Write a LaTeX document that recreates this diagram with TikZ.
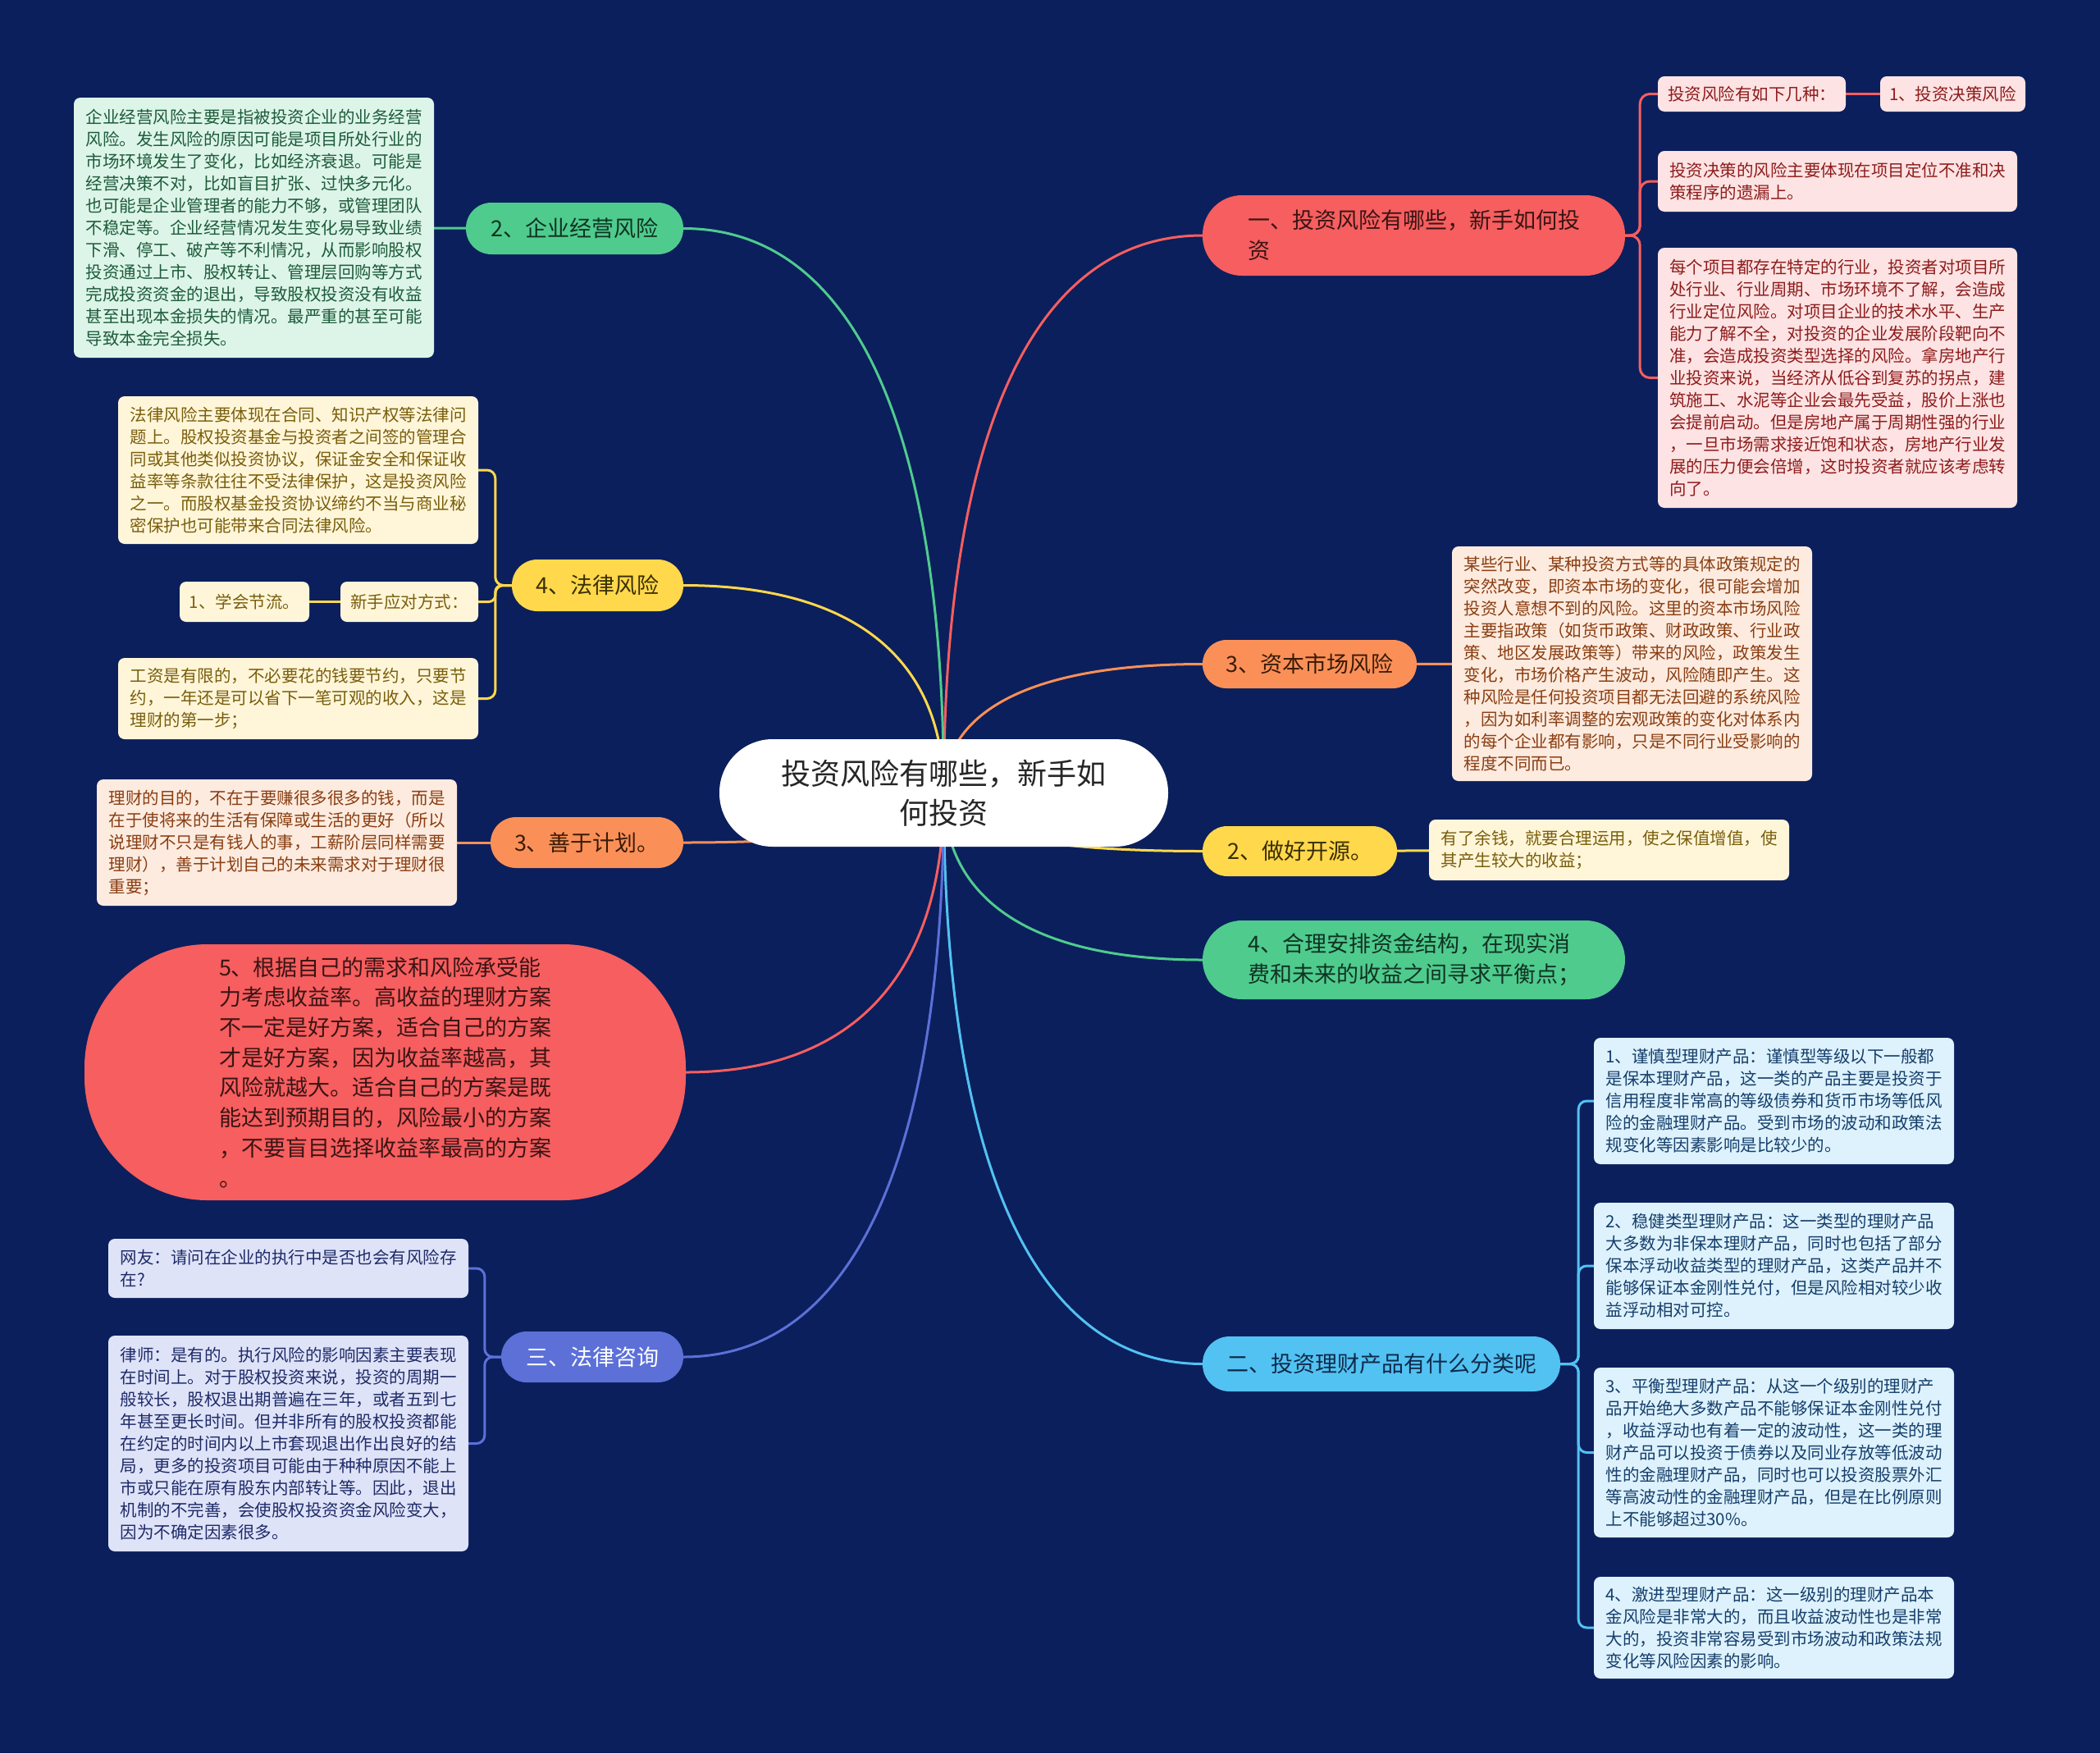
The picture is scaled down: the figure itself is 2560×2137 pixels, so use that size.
\documentclass[tikz,border=0pt]{standalone}
\usepackage{fontspec}
\setmainfont{Noto Sans CJK SC}
\usetikzlibrary{calc}
\definecolor{bg}{HTML}{0B1F5C}
\definecolor{redc}{HTML}{F65E5F}
\definecolor{redlt}{HTML}{FDE3E3}
\definecolor{reddk}{HTML}{8E1C1C}
\definecolor{redtx}{HTML}{3A1414}
\definecolor{orgc}{HTML}{FA9057}
\definecolor{orglt}{HTML}{FDEBDF}
\definecolor{orgdk}{HTML}{8A3E12}
\definecolor{orgtx}{HTML}{3A1B08}
\definecolor{ylwc}{HTML}{FFD84B}
\definecolor{ylwlt}{HTML}{FFF6D9}
\definecolor{ylwdk}{HTML}{7A5E0C}
\definecolor{ylwtx}{HTML}{3A2E05}
\definecolor{grnc}{HTML}{4FCB8E}
\definecolor{grnlt}{HTML}{DDF5E9}
\definecolor{grndk}{HTML}{1D5B3A}
\definecolor{grntx}{HTML}{0F3322}
\definecolor{bluc}{HTML}{52C2F2}
\definecolor{blult}{HTML}{DDF2FC}
\definecolor{bludk}{HTML}{163E6C}
\definecolor{blutx}{HTML}{0E2A4A}
\definecolor{purc}{HTML}{5C70D8}
\definecolor{purlt}{HTML}{DFE3F8}
\definecolor{purdk}{HTML}{1E2B68}
\pgfdeclarelayer{back}
\pgfdeclarelayer{links}
\pgfsetlayers{back,links,main}
\begin{document}
\begin{tikzpicture}[x=1pt, y=-1pt,
    box/.style={rounded corners=8pt, inner sep=0pt, align=left, minimum width=439pt, font=\fontsize{20.5}{27}\selectfont},
    pill/.style={rounded corners=#1, inner sep=0pt, align=left, font=\fontsize{27}{36.7}\selectfont},
    link/.style={line width=3pt},
    fork/.style={line width=3pt, rounded corners=#1},
    branch/.style={line width=3pt, to path={.. controls ($(\tikztostart)!0.65!(\tikztostart |- \tikztotarget)$) and ($(\tikztotarget)!0.65!(\tikztostart |- \tikztotarget)$) .. (\tikztotarget)}}]
    \useasboundingbox (0,0) rectangle (2560,2137);
    \begin{pgfonlayer}{back}
        \fill[bg] (0,0) rectangle (2560,2137);
    \end{pgfonlayer}

    \node (root) at (1150.5,966.5) [fill=white, rounded corners=65pt, minimum width=547pt, minimum height=131pt, inner sep=0pt, align=center, text=black!85, font=\fontsize{36}{48}\selectfont] {投资风险有哪些，新手如\\何投资};

    \node (b1) at (1723.5,287) [pill=48pt, fill=redc, text=redtx, minimum width=515pt, minimum height=98pt] {一、投资风险有哪些，新手如何投\\资};
    \node (r1a) at (2135.5,114.5) [box, fill=redlt, text=reddk, minimum width=229pt, minimum height=43pt] {投资风险有如下几种：};
    \node (r1b) at (2380.5,114.5) [box, fill=redlt, text=reddk, minimum width=177pt, minimum height=43pt] {1、投资决策风险};
    \node (r1c) at (2240,221) [box, fill=redlt, text=reddk, minimum width=438pt, minimum height=74pt] {投资决策的风险主要体现在项目定位不准和决\\策程序的遗漏上。};
    \node (r1d) at (2240,460.5) [box, fill=redlt, text=reddk, minimum width=438pt, minimum height=317pt] {每个项目都存在特定的行业，投资者对项目所\\处行业、行业周期、市场环境不了解，会造成\\行业定位风险。对项目企业的技术水平、生产\\能力了解不全，对投资的企业发展阶段靶向不\\准，会造成投资类型选择的风险。拿房地产行\\业投资来说，当经济从低谷到复苏的拐点，建\\筑施工、水泥等企业会最先受益，股价上涨也\\会提前启动。但是房地产属于周期性强的行业\\，一旦市场需求接近饱和状态，房地产行业发\\展的压力便会倍增，这时投资者就应该考虑转\\向了。};

    \node (b2) at (1596.5,809.5) [pill=29pt, fill=orgc, text=orgtx, minimum width=261pt, minimum height=59pt] {3、资本市场风险};
    \node (cap) at (1989.5,809) [box, fill=orglt, text=orgdk, minimum height=286pt] {某些行业、某种投资方式等的具体政策规定的\\突然改变，即资本市场的变化，很可能会增加\\投资人意想不到的风险。这里的资本市场风险\\主要指政策（如货币政策、财政政策、行业政\\策、地区发展政策等）带来的风险，政策发生\\变化，市场价格产生波动，风险随即产生。这\\种风险是任何投资项目都无法回避的系统风险\\，因为如利率调整的宏观政策的变化对体系内\\的每个企业都有影响，只是不同行业受影响的\\程度不同而已。};

    \node (b3) at (1584.5,1037.5) [pill=30pt, fill=ylwc, text=ylwtx, minimum width=237pt, minimum height=61pt] {2、做好开源。};
    \node (src) at (1961.5,1036) [box, fill=ylwlt, text=ylwdk, minimum height=74pt] {有了余钱，就要合理运用，使之保值增值，使\\其产生较大的收益；};

    \node (b4) at (1723.5,1170) [pill=48pt, fill=grnc, text=grntx, minimum width=515pt, minimum height=96pt] {4、合理安排资金结构，在现实消\\费和未来的收益之间寻求平衡点；};

    \node (b5) at (1684,1662.5) [pill=33pt, fill=bluc, text=blutx, minimum width=436pt, minimum height=67pt] {二、投资理财产品有什么分类呢};
    \node (p1) at (2162.5,1342) [box, fill=blult, text=bludk, minimum height=154pt] {1、谨慎型理财产品：谨慎型等级以下一般都\\是保本理财产品，这一类的产品主要是投资于\\信用程度非常高的等级债券和货币市场等低风\\险的金融理财产品。受到市场的波动和政策法\\规变化等因素影响是比较少的。};
    \node (p2) at (2162.5,1543) [box, fill=blult, text=bludk, minimum height=154pt] {2、稳健类型理财产品：这一类型的理财产品\\大多数为非保本理财产品，同时也包括了部分\\保本浮动收益类型的理财产品，这类产品并不\\能够保证本金刚性兑付，但是风险相对较少收\\益浮动相对可控。};
    \node (p3) at (2162.5,1770.5) [box, fill=blult, text=bludk, minimum height=207pt] {3、平衡型理财产品：从这一个级别的理财产\\品开始绝大多数产品不能够保证本金刚性兑付\\，收益浮动也有着一定的波动性，这一类的理\\财产品可以投资于债券以及同业存放等低波动\\性的金融理财产品，同时也可以投资股票外汇\\等高波动性的金融理财产品，但是在比例原则\\上不能够超过30\%。};
    \node (p4) at (2162.5,1984) [box, fill=blult, text=bludk, minimum height=124pt] {4、激进型理财产品：这一级别的理财产品本\\金风险是非常大的，而且收益波动性也是非常\\大的，投资非常容易受到市场波动和政策法规\\变化等风险因素的影响。};

    \node (l1) at (700.5,278.5) [pill=31pt, fill=grnc, text=grntx, minimum width=265pt, minimum height=63pt] {2、企业经营风险};
    \node (ent) at (309.5,277.5) [box, fill=grnlt, text=grndk, minimum height=317pt] {企业经营风险主要是指被投资企业的业务经营\\风险。发生风险的原因可能是项目所处行业的\\市场环境发生了变化，比如经济衰退。可能是\\经营决策不对，比如盲目扩张、过快多元化。\\也可能是企业管理者的能力不够，或管理团队\\不稳定等。企业经营情况发生变化易导致业绩\\下滑、停工、破产等不利情况，从而影响股权\\投资通过上市、股权转让、管理层回购等方式\\完成投资资金的退出，导致股权投资没有收益\\甚至出现本金损失的情况。最严重的甚至可能\\导致本金完全损失。};

    \node (l2) at (728.5,713.5) [pill=31pt, fill=ylwc, text=ylwtx, minimum width=209pt, minimum height=63pt] {4、法律风险};
    \node (law1) at (363.5,573) [box, fill=ylwlt, text=ylwdk, minimum height=180pt] {法律风险主要体现在合同、知识产权等法律问\\题上。股权投资基金与投资者之间签的管理合\\同或其他类似投资协议，保证金安全和保证收\\益率等条款往往不受法律保护，这是投资风险\\之一。而股权基金投资协议缔约不当与商业秘\\密保护也可能带来合同法律风险。};
    \node (way) at (499,733.5) [box, fill=ylwlt, text=ylwdk, minimum width=168pt, minimum height=49pt] {新手应对方式：};
    \node (save) at (298,733.5) [box, fill=ylwlt, text=ylwdk, minimum width=158pt, minimum height=49pt] {1、学会节流。};
    \node (law3) at (363.5,851.5) [box, fill=ylwlt, text=ylwdk, minimum height=99pt] {工资是有限的，不必要花的钱要节约，只要节\\约，一年还是可以省下一笔可观的收入，这是\\理财的第一步；};

    \node (l3) at (715.5,1027) [pill=31pt, fill=orgc, text=orgtx, minimum width=235pt, minimum height=62pt] {3、善于计划。};
    \node (plan) at (337.5,1027) [box, fill=orglt, text=orgdk, minimum height=154pt] {理财的目的，不在于要赚很多很多的钱，而是\\在于使将来的生活有保障或生活的更好（所以\\说理财不只是有钱人的事，工薪阶层同样需要\\理财），善于计划自己的未来需求对于理财很\\重要；};

    \node (l4) at (469.5,1307) [pill=150pt, fill=redc, text=redtx, minimum width=733pt, minimum height=312pt] {5、根据自己的需求和风险承受能\\力考虑收益率。高收益的理财方案\\不一定是好方案，适合自己的方案\\才是好方案，因为收益率越高，其\\风险就越大。适合自己的方案是既\\能达到预期目的，风险最小的方案\\，不要盲目选择收益率最高的方案\\。};

    \node (l5) at (722,1654) [pill=31pt, fill=purc, text=white, minimum width=222pt, minimum height=62pt] {三、法律咨询};
    \node (cq1) at (351.5,1546) [box, fill=purlt, text=purdk, minimum height=72pt] {网友：请问在企业的执行中是否也会有风险存\\在?};
    \node (cq2) at (351.5,1759.5) [box, fill=purlt, text=purdk, minimum height=263pt] {律师：是有的。执行风险的影响因素主要表现\\在时间上。对于股权投资来说，投资的周期一\\般较长，股权退出期普遍在三年，或者五到七\\年甚至更长时间。但并非所有的股权投资都能\\在约定的时间内以上市套现退出作出良好的结\\局，更多的投资项目可能由于种种原因不能上\\市或只能在原有股东内部转让等。因此，退出\\机制的不完善，会使股权投资资金风险变大，\\因为不确定因素很多。};

    \begin{pgfonlayer}{links}
        \draw[branch, redc] (root.center) to (b1.west);
        \draw[branch, orgc] (root.center) to (b2.west);
        \draw[branch, ylwc] (root.center) to (b3.west);
        \draw[branch, grnc] (root.center) to (b4.west);
        \draw[branch, bluc] (root.center) to (b5.west);
        \draw[branch, grnc] (root.center) to (l1.east);
        \draw[branch, ylwc] (root.center) to (l2.east);
        \draw[branch, orgc] (root.center) to (l3.east);
        \draw[branch, redc] (root.center) to (l4.east);
        \draw[branch, purc] (root.center) to (l5.east);

        \draw[fork=12pt, redc] (b1.east) -- ++(18,0) |- (r1a.west);
        \draw[fork=12pt, redc] (b1.east) -- ++(18,0) |- (r1c.west);
        \draw[fork=12pt, redc] (b1.east) -- ++(18,0) |- (r1d.west);
        \draw[link, redc] (r1a) -- (r1b);
        \draw[link, orgc] (b2) -- (cap);
        \draw[link, ylwc] (b3) -- (src);
        \draw[fork=10pt, bluc] (b5.east) -- ++(22,0) |- (p1.west);
        \draw[fork=10pt, bluc] (b5.east) -- ++(22,0) |- (p2.west);
        \draw[fork=10pt, bluc] (b5.east) -- ++(22,0) |- (p3.west);
        \draw[fork=10pt, bluc] (b5.east) -- ++(22,0) |- (p4.west);

        \draw[link, grnc] (l1) -- (ent);
        \draw[fork=10pt, ylwc] (l2.west) -- ++(-20,0) |- (law1.east);
        \draw[fork=8pt, ylwc] (l2.west) -- ++(-20,0) |- (way.east);
        \draw[fork=10pt, ylwc] (l2.west) -- ++(-20,0) |- (law3.east);
        \draw[link, ylwc] (way) -- (save);
        \draw[link, orgc] (l3) -- (plan);
        \draw[fork=10pt, purc] (l5.west) -- ++(-20,0) |- (cq1.east);
        \draw[fork=10pt, purc] (l5.west) -- ++(-20,0) |- (cq2.east);
    \end{pgfonlayer}
\end{tikzpicture}
\end{document}
